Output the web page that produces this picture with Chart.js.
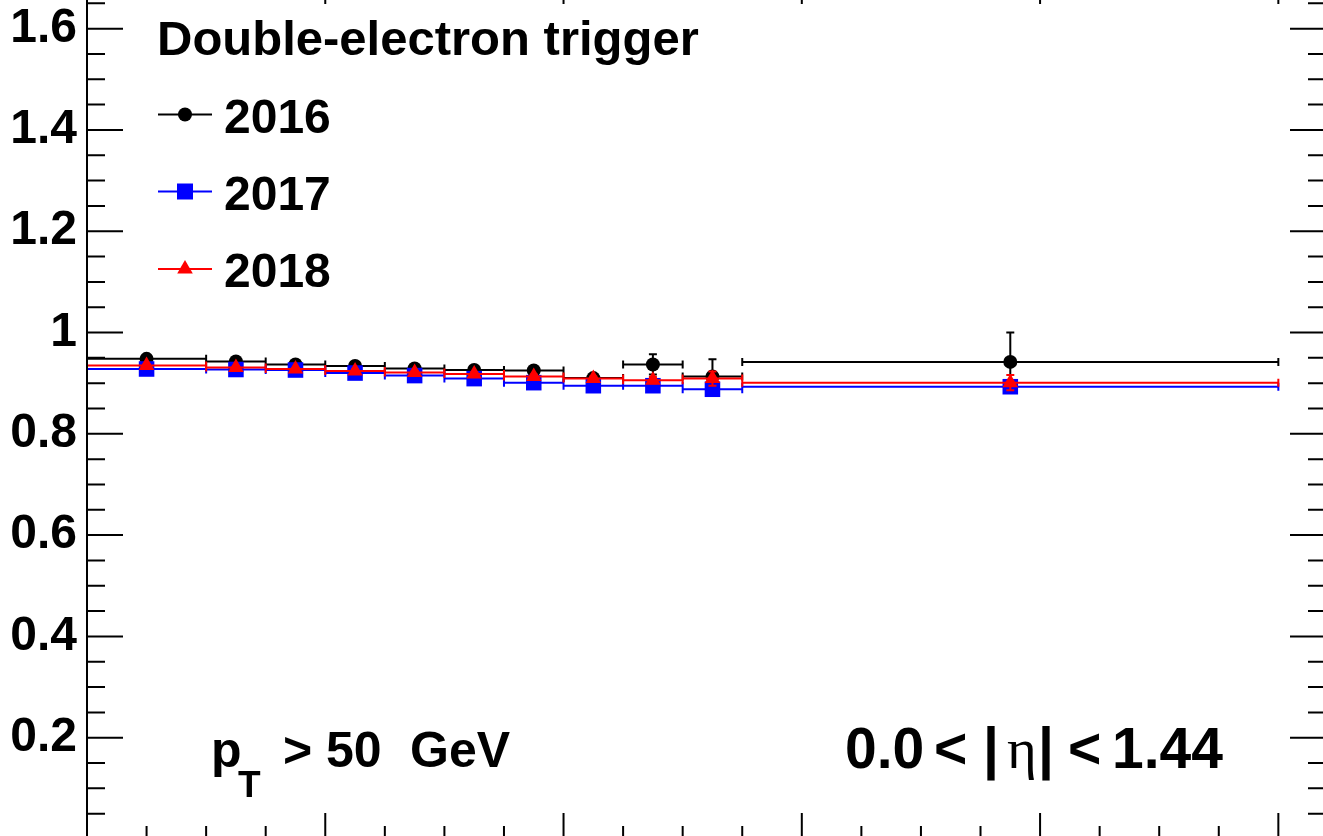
<!DOCTYPE html>
<html lang="en">
<head>
<meta charset="UTF-8">
<title>Double-electron trigger efficiency</title>
<script src="https://cdn.jsdelivr.net/npm/chart.js@4.4.1/dist/chart.umd.min.js"></script>
<style>
  html, body { margin: 0; padding: 0; overflow: hidden; background: #fff; width: 1323px; height: 836px; }
  #wrap { position: absolute; left: 0; top: -62px; }
</style>
</head>
<body>
<div id="wrap"><canvas id="c" width="1360" height="941"></canvas></div>
<script>
// bins (x edges and centres)
const binLow    = [0, 10, 15, 20, 25, 30, 35, 40, 45, 50, 55];
const binHigh   = [10, 15, 20, 25, 30, 35, 40, 45, 50, 55, 100];
const binCenter = [5, 12.5, 17.5, 22.5, 27.5, 32.5, 37.5, 42.5, 47.5, 52.5, 77.5];

// efficiencies
const eff2016 = [0.948, 0.943, 0.937, 0.934, 0.929, 0.926, 0.925, 0.910, 0.937, 0.913, 0.942];
const err2016 = [0.003, 0.004, 0.004, 0.004, 0.005, 0.005, 0.006, 0.008, 0.020, 0.034, 0.058];
const eff2017 = [0.928, 0.927, 0.926, 0.920, 0.915, 0.909, 0.901, 0.895, 0.895, 0.888, 0.893];
const err2017 = [0.002, 0.002, 0.002, 0.003, 0.003, 0.003, 0.004, 0.004, 0.006, 0.008, 0.010];
const eff2018 = [0.935, 0.931, 0.928, 0.924, 0.921, 0.918, 0.913, 0.909, 0.906, 0.909, 0.901];
const err2018 = [0.002, 0.002, 0.002, 0.003, 0.003, 0.003, 0.004, 0.004, 0.006, 0.014, 0.015];

const years = ['2016', '2017', '2018'];
const yTicks = [0.2, 0.4, 0.6, 0.8, 1.0, 1.2, 1.4, 1.6];
const yTickLabels = ['0.2', '0.4', '0.6', '0.8', '1', '1.2', '1.4', '1.6'];

const FONT = '"Liberation Sans", Arial, Helvetica, sans-serif';
const OFF = 62; // canvas is shifted up by this much

const series = [
  { label: years[0], eff: eff2016, err: err2016, color: '#000000', style: 'circle', radius: 7, order: 3 },
  { label: years[1], eff: eff2017, err: err2017, color: '#0000ff', style: 'rect', radius: 11, order: 2 },
  { label: years[2], eff: eff2018, err: err2018, color: '#ff0000', style: 'triangle', radius: 9, order: 1 }
];

function marker(ctx, style, x, y, color) {
  ctx.fillStyle = color;
  ctx.beginPath();
  if (style === 'circle') {
    ctx.arc(x, y, 7, 0, Math.PI * 2);
  } else if (style === 'rect') {
    ctx.rect(x - 8, y - 8, 16, 16);
  } else {
    ctx.moveTo(x, y - 9);
    ctx.lineTo(x + 7.8, y + 4.5);
    ctx.lineTo(x - 7.8, y + 4.5);
    ctx.closePath();
  }
  ctx.fill();
}

// error bars drawn just before each dataset's markers (ROOT style)
const errorBars = {
  id: 'errorBars',
  beforeDatasetDraw(chart, args) {
    const s = series[args.index];
    const { ctx, scales: { x, y } } = chart;
    ctx.save();
    ctx.strokeStyle = s.color;
    ctx.lineWidth = 2;
    ctx.beginPath();
    for (let k = 0; k < s.eff.length; k++) {
      const py = y.getPixelForValue(s.eff[k]);
      const x1 = x.getPixelForValue(binLow[k]);
      const x2 = x.getPixelForValue(binHigh[k]);
      const px = x.getPixelForValue(binCenter[k]);
      ctx.moveTo(x1, py); ctx.lineTo(x2, py);
      ctx.moveTo(x1, py - 4); ctx.lineTo(x1, py + 4);
      ctx.moveTo(x2, py - 4); ctx.lineTo(x2, py + 4);
      const pt = y.getPixelForValue(s.eff[k] + s.err[k]);
      const pb = y.getPixelForValue(s.eff[k] - s.err[k]);
      ctx.moveTo(px, pt); ctx.lineTo(px, pb);
      ctx.moveTo(px - 4, pt); ctx.lineTo(px + 4, pt);
      ctx.moveTo(px - 4, pb); ctx.lineTo(px + 4, pb);
    }
    ctx.stroke();
    ctx.restore();
  }
};

// frame, inward ticks, legend and labels
const decorations = {
  id: 'decorations',
  afterDraw(chart) {
    const { ctx, chartArea: a, scales: { x, y } } = chart;
    ctx.save();
    ctx.strokeStyle = '#000';
    ctx.lineWidth = 2;
    ctx.beginPath();
    ctx.rect(a.left, a.top, a.right - a.left, a.bottom - a.top);
    for (let k = 0; k <= 34; k++) {
      const py = y.getPixelForValue(k * 0.05);
      const len = k % 4 === 0 ? 36 : 18;
      ctx.moveTo(a.left, py); ctx.lineTo(a.left + len, py);
      ctx.moveTo(a.right, py); ctx.lineTo(a.right - len, py);
    }
    for (let k = 0; k <= 20; k++) {
      const px = x.getPixelForValue(k * 5);
      const len = k % 4 === 0 ? 26 : 13;
      ctx.moveTo(px, a.bottom); ctx.lineTo(px, a.bottom - len);
      ctx.moveTo(px, a.top); ctx.lineTo(px, a.top + len);
    }
    ctx.stroke();

    // title
    ctx.fillStyle = '#000';
    ctx.textAlign = 'left';
    ctx.textBaseline = 'alphabetic';
    ctx.font = 'bold 49px ' + FONT;
    ctx.fillText('Double-electron trigger', 157, 55 + OFF);

    // legend
    const ly = [114.5, 191.5, 269];
    const lb = [132.5, 209.5, 286.5];
    series.forEach((s, i) => {
      ctx.strokeStyle = s.color;
      ctx.lineWidth = 2;
      ctx.beginPath();
      ctx.moveTo(158, ly[i] + OFF); ctx.lineTo(212, ly[i] + OFF);
      ctx.stroke();
      marker(ctx, s.style, 185, ly[i] + OFF, s.color);
      ctx.fillStyle = '#000';
      ctx.font = 'bold 48px ' + FONT;
      ctx.fillText(s.label, 224, lb[i] + OFF);
    });

    // pT label
    ctx.fillStyle = '#000';
    ctx.font = 'bold 50px ' + FONT;
    ctx.fillText('p', 211, 767 + OFF);
    ctx.font = 'bold 37px ' + FONT;
    ctx.fillText('T', 238, 797 + OFF);
    ctx.font = 'bold 50px ' + FONT;
    ctx.fillText('>', 283, 767 + OFF);
    ctx.fillText('50', 326, 767 + OFF);
    ctx.fillText('GeV', 410, 767 + OFF);

    // eta label
    ctx.font = 'bold 57px ' + FONT;
    ctx.fillText('0.0', 845, 768 + OFF);
    ctx.fillText('<', 934, 768 + OFF);
    ctx.fillText('|', 983, 768 + OFF);
    ctx.font = '57px "Liberation Serif", "DejaVu Serif", serif';
    ctx.fillText('\u03B7', 1007, 768 + OFF);
    ctx.font = 'bold 57px ' + FONT;
    ctx.fillText('|', 1038, 768 + OFF);
    ctx.fillText('<', 1068, 768 + OFF);
    ctx.fillText('1.44', 1112, 768 + OFF);
    ctx.restore();
  }
};

new Chart(document.getElementById('c'), {
  type: 'scatter',
  data: {
    datasets: series.map(s => ({
      label: s.label,
      data: binCenter.map((c, k) => ({ x: c, y: s.eff[k] })),
      showLine: false,
      pointStyle: s.style,
      pointRadius: s.radius,
      pointHoverRadius: s.radius,
      pointBackgroundColor: s.color,
      pointBorderWidth: 0,
      borderColor: s.color,
      backgroundColor: s.color,
      order: s.order
    }))
  },
  options: {
    responsive: false,
    animation: false,
    events: [],
    layout: { padding: { left: 0, right: 34, top: 40, bottom: 40 } },
    plugins: { legend: { display: false }, tooltip: { enabled: false } },
    scales: {
      x: { type: 'linear', min: 0, max: 104, display: false },
      y: {
        type: 'linear', min: 0, max: 1.7,
        afterFit: s => { s.width = 87; },
        afterBuildTicks: s => { s.ticks = yTicks.map(v => ({ value: v })); },
        grid: { display: false },
        border: { display: false },
        ticks: {
          autoSkip: false,
          padding: 2,
          color: '#000',
          font: { family: FONT, size: 48, weight: 'bold' },
          callback: (v, i) => yTickLabels[i]
        }
      }
    }
  },
  plugins: [errorBars, decorations]
});
</script>
</body>
</html>
